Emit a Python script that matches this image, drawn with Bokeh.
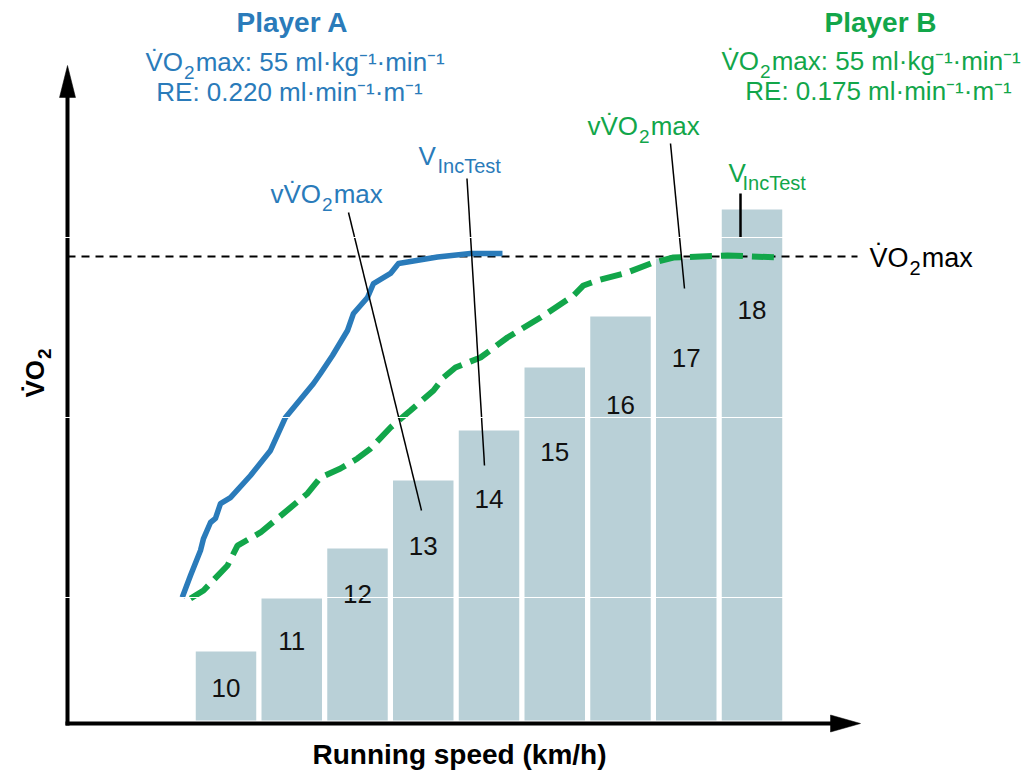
from bokeh.plotting import figure
from bokeh.models import Range1d, FixedTicker
from bokeh.embed import file_html
from bokeh.resources import INLINE
from bokeh.core.properties import value
import math

# ---------------- data ----------------
speeds = [10, 11, 12, 13, 14, 15, 16, 17, 18]
speed_labels = ["10", "11", "12", "13", "14", "15", "16", "17", "18"]
bar_vo2 = [8.18, 14.46, 20.39, 28.45, 34.38, 41.84, 47.89, 54.77, 60.57]

vo2max = 55.0

player_a_speed = [9.334, 9.460, 9.612, 9.658, 9.764, 9.840, 9.916, 10.068, 10.373,
                  10.677, 10.905, 11.331, 11.437, 11.620, 11.848, 11.939, 12.152,
                  12.243, 12.502, 12.624, 13.217, 13.719, 14.205]
player_a_vo2 = [14.58, 17.19, 20.15, 21.57, 23.47, 23.95, 25.72, 26.43, 29.04,
                32.01, 35.92, 39.95, 41.13, 43.27, 46.23, 48.25, 50.14,
                51.80, 52.99, 54.17, 54.94, 55.36, 55.36]

player_b_speed = [9.460, 9.658, 10.023, 10.175, 10.525, 11.240, 11.437, 11.741,
                  12.000, 12.198, 12.502, 12.806, 13.156, 13.308, 13.490, 13.871,
                  14.281, 14.783, 15.285, 15.437, 15.650, 16.106, 16.502, 16.806,
                  17.217, 17.627, 18.433]
player_b_vo2 = [14.46, 15.41, 18.37, 20.74, 22.29, 26.91, 28.81, 29.87,
                31.06, 32.24, 34.73, 36.75, 39.12, 40.66, 41.84, 43.03,
                45.40, 47.77, 50.38, 51.57, 52.16, 53.11, 54.29, 54.88,
                55.00, 55.12, 54.88]

title_a = "Player A"
line2_rest = "max: 55 ml\u00b7kg\u207b\u00b9\u00b7min\u207b\u00b9"
line3_a = "RE: 0.220 ml\u00b7min\u207b\u00b9\u00b7m\u207b\u00b9"
title_b = "Player B"
line3_b = "RE: 0.175 ml\u00b7min\u207b\u00b9\u00b7m\u207b\u00b9"
x_label = "Running speed (km/h)"

# ---------------- layout / style ----------------
W, H = 1030, 771
PX_X = 65.75    # pixels per km/h
PX_Y = 8.436    # pixels per VO2 unit
X0 = 10 - 225.5 / PX_X
Y0 = -(H - 720) / PX_Y

BLUE = "#2a7bba"
GREEN = "#12a64a"
BAR = "#b9d0d7"
FONT = "Liberation Sans"


def fx(px):
    return X0 + px / PX_X


def fy(py):
    return (720 - py) / PX_Y


p = figure(width=W, height=H, output_backend="svg", toolbar_location=None,
           x_range=Range1d(X0, X0 + W / PX_X), y_range=Range1d(Y0, Y0 + H / PX_Y),
           min_border=0)
p.title.visible = False
p.axis.visible = False
p.xgrid.visible = False
p.ygrid.ticker = FixedTicker(ticks=[fy(596.7), fy(416.7), fy(236.7)])
p.ygrid.grid_line_color = "white"
p.ygrid.grid_line_width = 1.2
p.ygrid.level = "overlay"
p.outline_line_color = None
p.background_fill_color = "white"
p.border_fill_color = "white"

# bars
p.vbar(x=speeds, top=bar_vo2, bottom=0, width=0.92, fill_color=BAR, line_color=None)

# numbers in bars (placed on a straight diagonal)
label_y = [fy(687.5) + (47.2 / PX_Y) * (s - speeds[0]) for s in speeds]
p.text(x=speeds, y=label_y, text=speed_labels, text_font=value(FONT),
       text_font_size="26px", text_color="#111111", text_align="center",
       text_baseline="middle")

# axes geometry
ax_x = fx(67)
ax_y = fy(723)

# VO2max dashed line
p.line([ax_x, fx(857)], [vo2max, vo2max], line_color="black",
       line_width=2, line_dash="8 6")

# curves
p.line(player_a_speed, player_a_vo2, line_color=BLUE, line_width=5.5, line_join="round")
p.line(player_b_speed, player_b_vo2, line_color=GREEN, line_width=6, line_dash="22 9")

# leader lines
p.segment(x0=[fx(348), fx(466.5), fx(670)], y0=[fy(212), fy(178), fy(143)],
          x1=[fx(421), fx(484), fx(684)], y1=[fy(510), fy(465), fy(288)],
          line_color="black", line_width=1.5)
p.segment(x0=[fx(740)], y0=[fy(193)], x1=[fx(740)], y1=[fy(237)],
          line_color="black", line_width=2.5)

# axis lines with arrow heads
p.line([ax_x, ax_x], [fy(725), fy(95)], line_color="black", line_width=4)
p.line([fx(65), fx(832)], [ax_y, ax_y], line_color="black", line_width=4)
p.patch([fx(59), fx(75), fx(67)], [fy(97), fy(97), fy(65)],
        fill_color="black", line_color="black", line_width=0.5)
p.patch([fx(830), fx(830), fx(860)], [fy(714.5), fy(731.5), fy(723)],
        fill_color="black", line_color="black", line_width=0.5)

MID = 0.35  # distance (em) from the baseline up to the middle anchor


def txt(px, py, t, size, color, align="left", style="normal", rotated=False):
    """Place text by its baseline position (px, py) in picture pixels."""
    if rotated:
        ax, ay, ang = px - MID * size, py, math.pi / 2
    else:
        ax, ay, ang = px, py - MID * size, 0
    p.text(x=[fx(ax)], y=[fy(ay)], text=[t], text_font=value(FONT),
           text_font_size=f"{size}px", text_color=color, text_align=align,
           text_baseline="middle", text_font_style=style, angle=ang)


MAIN = 26
SUB = 19
EM_VO = 1.445     # advance of "VO" in Liberation Sans (em)
EM_vVO = 1.945    # advance of "vVO"
EM_2 = 0.556


def vo2_text(px, py, prefix, em_prefix, rest, color, size=MAIN, sub=SUB, drop=7.5):
    """V-dot O with a real subscript 2, followed by the rest of the text."""
    txt(px, py, prefix, size, color)
    x2 = px + em_prefix * size + 1
    txt(x2, py + drop, "2", sub, color)
    txt(x2 + EM_2 * sub + 1, py, rest, size, color)


# Player headers
txt(292, 31.5, title_a, 28, BLUE, "center", style="bold")
vo2_text(145, 71, "V\u0307O", EM_VO, line2_rest, BLUE)
txt(289, 101, line3_a, 26, BLUE, "center")
txt(880, 31.5, title_b, 28, GREEN, "center", style="bold")
vo2_text(721, 70, "V\u0307O", EM_VO, line2_rest, GREEN)
txt(878, 100, line3_b, 26, GREEN, "center")

# curve labels
vo2_text(270, 203, "vV\u0307O", EM_vVO, "max", BLUE)
txt(418, 164.5, "V", 26, BLUE)
txt(437, 172, "IncTest", 20, BLUE)
vo2_text(587, 135, "vV\u0307O", EM_vVO, "max", GREEN)
txt(728, 182, "V", 26, GREEN)
txt(742, 189.5, "IncTest", 20, GREEN)

# VO2max label at the dashed line
vo2_text(869, 266.5, "V\u0307O", EM_VO, "max", "black", size=27, sub=20)

# axis titles
txt(459, 764, x_label, 28, "black", "center", style="bold")
txt(43.5, 397, "V\u0307O", 26, "black", "left", style="bold", rotated=True)
txt(50.5, 397 - EM_VO * 26 - 1, "2", 19, "black", "left", style="bold", rotated=True)

open("out.html", "w").write(file_html(p, INLINE))
